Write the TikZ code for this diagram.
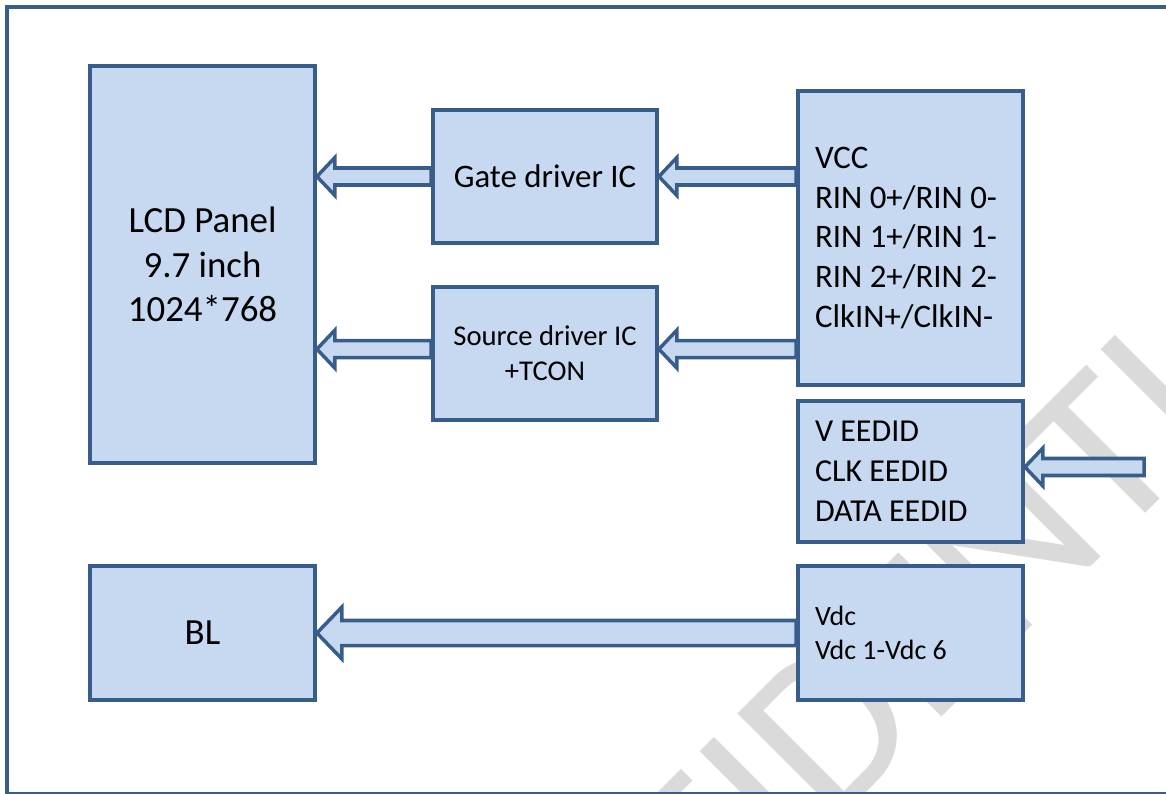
\documentclass[tikz,border=0pt]{standalone}
\usepackage{fontspec}
\setmainfont{Carlito}
\usepackage{xcolor}
\usepackage{tikz}
\usetikzlibrary{calc, backgrounds}
\definecolor{panelblue}{HTML}{C6D9F1}
\definecolor{edgeblue}{HTML}{385D8A}
\definecolor{markgray}{HTML}{DADADA}

\tikzset{
  block/.style={draw=edgeblue, fill=panelblue, line width=2.2pt, line join=miter,
                inner sep=0pt, align=center, minimum width=4.5cm},
  pinbox/.style={block, align=flush left, inner xsep=0.34cm, text width=3.82cm},
  arrowbody/.style={draw=edgeblue, fill=panelblue, line width=2pt, line join=miter}
}

% hollow block arrow pointing left: tail, tip, shaft half, head half, head length
\newcommand{\fatarrow}[5]{%
  \draw[arrowbody] (#2) -- ++(#5,-#4) -- ++(0,{#4-#3})
    -- ($(#1 |- #2)+(0,-#3)$) -- ++(0,{2*#3}) -- ($(#2)+(#5,#3)$)
    -- ++(0,{#4-#3}) -- cycle;}

\begin{document}
\begin{tikzpicture}[x=0.02cm, y=-0.02cm]
  \useasboundingbox (0,0) rectangle (1166,794);

  % watermark
  \begin{scope}[on background layer]
    \clip (0,0) rectangle (1166,794);
    \node[rotate=45, text=markgray, font=\fontsize{130}{130}\selectfont] (mark) at (855,700) {CONFIDENTIAL};
  \end{scope}

  \draw[edgeblue, line width=1.9pt] (7,7) rectangle (1200,794);

  % panel side
  \node[block, minimum height=7.94cm, font=\fontsize{21}{25.5}\selectfont] (lcd) at (202.5,264.5)
    {LCD Panel\\9.7 inch\\1024*768};
  \node[block, minimum height=2.68cm, font=\fontsize{21}{25.5}\selectfont] (bl) at (202.5,633) {BL};

  % driver ICs
  \node[block, minimum width=4.48cm, minimum height=2.66cm, font=\fontsize{18.7}{22.7}\selectfont] (gate) at (545,176.5)
    {Gate driver IC};
  \node[block, minimum width=4.48cm, minimum height=2.66cm, font=\fontsize{16.3}{19.8}\selectfont] (src) at (545,353.5)
    {Source driver IC\\+TCON};

  % connector pins
  \node[pinbox, minimum height=5.88cm, font=\fontsize{18.7}{22.7}\selectfont] (vcc) at (910.5,238)
    {VCC\\RIN 0+/RIN 0-\\RIN 1+/RIN 1-\\RIN 2+/RIN 2-\\ClkIN+/ClkIN-};
  \node[pinbox, minimum height=2.82cm, font=\fontsize{18.2}{22.7}\selectfont] (eedid) at (910.5,471.5)
    {V EEDID\\CLK EEDID\\DATA EEDID};
  \node[pinbox, minimum height=2.68cm, font=\fontsize{15.9}{19.3}\selectfont] (vdc) at (910.5,633)
    {Vdc\\Vdc 1-Vdc 6};

  \coordinate (gaterow) at (gate.center);
  \coordinate (srcrow) at ([yshift=2.5pt]src.center);
  \coordinate (romin) at (1144,467);

  \coordinate (lcdtop) at (lcd.east |- gaterow);
  \coordinate (vcctop) at (vcc.west |- gaterow);
  \coordinate (lcdlow) at (lcd.east |- srcrow);
  \coordinate (srcout) at (src.west |- srcrow);
  \coordinate (srcin) at (src.east |- srcrow);
  \coordinate (vcclow) at (vcc.west |- srcrow);
  \coordinate (romtip) at (eedid.east |- romin);

  \begin{scope}[on background layer]
    \fatarrow{gate.west}{lcdtop}{8.5}{19}{18}
    \fatarrow{vcctop}{gate.east}{8.5}{19}{18}
    \fatarrow{srcout}{lcdlow}{8.5}{19}{18}
    \fatarrow{vcclow}{srcin}{8.5}{19}{18}
    \fatarrow{romin}{romtip}{8.5}{19}{18}
    \fatarrow{vdc.west}{bl.east}{12.5}{26}{25}
  \end{scope}
\end{tikzpicture}
\end{document}
